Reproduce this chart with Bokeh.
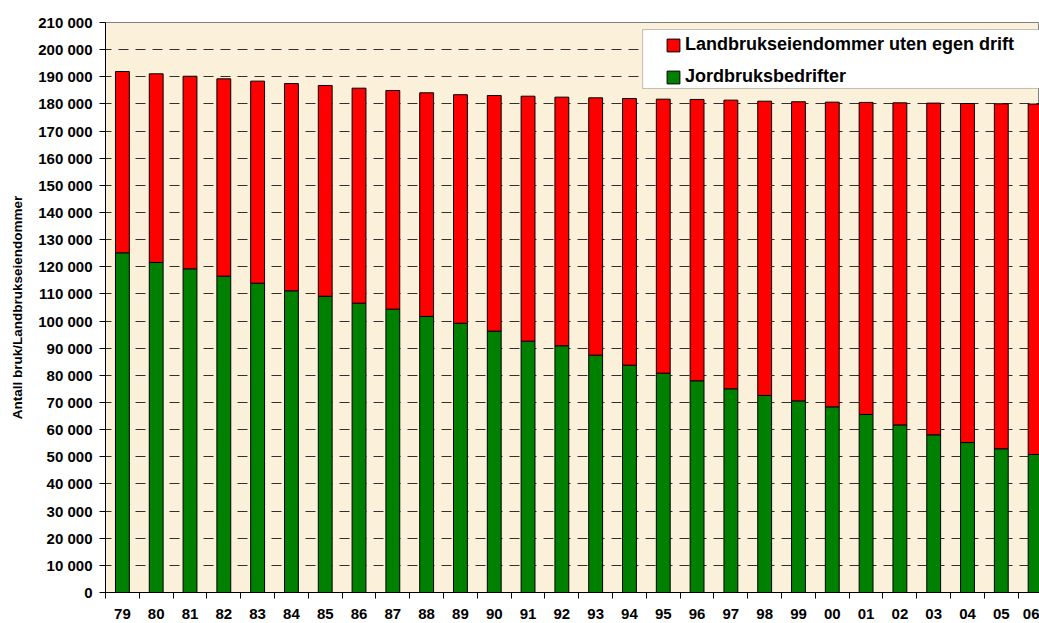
from bokeh.plotting import figure
from bokeh.models import (ColumnDataSource, FixedTicker, Legend, LegendItem,
                          BoxAnnotation, Range1d, Grid)
from bokeh.embed import file_html
from bokeh.resources import INLINE

# ---- data ----
years = ["79", "80", "81", "82", "83", "84", "85", "86", "87", "88", "89", "90",
         "91", "92", "93", "94", "95", "96", "97", "98", "99", "00", "01", "02",
         "03", "04", "05", "06"]
jordbruksbedrifter = [125150, 121600, 119250, 116550, 113950, 111150, 109150, 106600,
                      104400, 101700, 99200, 96300, 92600, 90900, 87450, 83750,
                      80800, 78000, 75050, 72600, 70600, 68400, 65600, 61750,
                      58100, 55250, 52950, 50850]
uten_egen_drift = [66800, 69500, 70950, 72700, 74450, 76350, 77650, 79200,
                   80550, 82400, 84200, 86800, 90250, 91600, 94800, 98250,
                   100950, 103650, 106350, 108400, 110200, 112250, 114950, 118650,
                   122200, 124900, 127100, 129100]
series_names = ["Landbrukseiendommer uten egen drift", "Jordbruksbedrifter"]
y_ticks = list(range(0, 210001, 10000))
y_title = "Antall bruk/Landbrukseiendommer"

FONT = "Liberation Sans"
RED = "#FF0000"
GREEN = "#008000"

xpos = list(range(1, len(years) + 1))
src = ColumnDataSource(dict(x=xpos, jord=jordbruksbedrifter, uten=uten_egen_drift))

p = figure(width=1039, height=623, output_backend="svg", toolbar_location=None,
           x_range=Range1d(0.5, 28.13), y_range=Range1d(0, 210000),
           min_border_left=105, min_border_right=0, min_border_top=22,
           min_border_bottom=31)

p.background_fill_color = "#FBF0D9"
p.border_fill_color = "white"
p.outline_line_color = "#808080"
p.outline_line_width = 1

# grid
p.xgrid.visible = False
p.ygrid.visible = False
yticker = FixedTicker(ticks=y_ticks, minor_ticks=[])
grid = Grid(dimension=1, ticker=yticker, grid_line_color="#303030",
            grid_line_dash="10 7", grid_line_dash_offset=4,
            grid_line_width=1, level="underlay")
p.add_layout(grid)

rs = p.vbar_stack(["jord", "uten"], x="x", width=0.41, source=src,
                  fill_color=[GREEN, RED], line_color="black", line_width=1)

# x axis
p.xaxis.ticker = FixedTicker(ticks=xpos, minor_ticks=[i + 0.5 for i in range(0, len(years) + 1)])
p.xaxis.major_label_overrides = {i: y for i, y in zip(xpos, years)}
p.xaxis.major_tick_out = 0
p.xaxis.major_tick_in = 0
p.xaxis.minor_tick_out = 6
p.xaxis.minor_tick_in = 0
p.xaxis.minor_tick_line_color = "black"
p.xaxis.axis_line_color = "black"
p.xaxis.major_label_standoff = 10
p.xaxis.major_label_text_font = FONT
p.xaxis.major_label_text_font_style = "bold"
p.xaxis.major_label_text_font_size = "15px"
p.xaxis.major_label_text_color = "black"

# y axis
p.yaxis.ticker = yticker
p.yaxis.major_label_overrides = {t: f"{t:,}".replace(",", " ") for t in y_ticks}
p.yaxis.major_tick_out = 6
p.yaxis.major_tick_in = 0
p.yaxis.major_tick_line_color = "black"
p.yaxis.axis_line_color = "black"
p.yaxis.major_label_standoff = 7
p.yaxis.major_label_text_font = FONT
p.yaxis.major_label_text_font_style = "bold"
p.yaxis.major_label_text_font_size = "15px"
p.yaxis.major_label_text_color = "black"
p.yaxis.axis_label = y_title
p.yaxis.axis_label_text_font = FONT
p.yaxis.axis_label_text_font_style = "bold"
p.yaxis.axis_label_text_font_size = "13.5px"
p.yaxis.axis_label_text_color = "black"
p.yaxis.axis_label_standoff = 10

# legend box (white panel)
box = BoxAnnotation(left=16.39, right=40, top=207400, bottom=185700,
                    fill_color="white", fill_alpha=1.0,
                    line_color="#333333", line_width=1)
p.add_layout(box)

legend = Legend(items=[LegendItem(label=series_names[0], renderers=[rs[1]]),
                       LegendItem(label=series_names[1], renderers=[rs[0]])],
                location=(560, 505), padding=4, spacing=11, margin=0,
                glyph_width=16, glyph_height=16, label_height=20,
                label_standoff=4,
                label_text_font=FONT, label_text_font_style="bold",
                label_text_font_size="18px", label_text_color="black",
                background_fill_alpha=0, border_line_color=None)
p.add_layout(legend)

open("out.html", "w").write(file_html(p, INLINE))
